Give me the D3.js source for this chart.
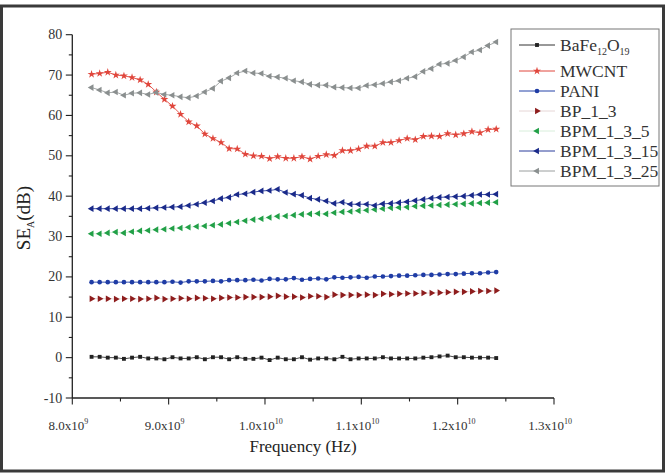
<!DOCTYPE html>
<html>
<head>
<meta charset="utf-8">
<script src="https://cdn.jsdelivr.net/npm/d3@7"></script>
<style>
  body { margin: 0; background: #fff; }
</style>
</head>
<body>
<div class="content"></div>
<script>
// frequency in GHz (51 points, 8.2 - 12.4 GHz)
var freq = [8.200, 8.284, 8.368, 8.452, 8.536, 8.620, 8.704, 8.788, 8.872, 8.956,
  9.040, 9.124, 9.208, 9.292, 9.376, 9.460, 9.544, 9.628, 9.712, 9.796,
  9.880, 9.964, 10.048, 10.132, 10.216, 10.300, 10.384, 10.468, 10.552, 10.636,
  10.720, 10.804, 10.888, 10.972, 11.056, 11.140, 11.224, 11.308, 11.392, 11.476,
  11.560, 11.644, 11.728, 11.812, 11.896, 11.980, 12.064, 12.148, 12.232, 12.316, 12.400];

var bafe = [0.2,0.2,0.0,0.0,-0.3,0.0,0.2,-0.2,-0.2,-0.4,
  0.1,-0.2,-0.2,0.1,-0.4,0.1,0.1,-0.4,0.1,-0.3,
  -0.3,0.0,-0.6,0.0,-0.4,-0.4,0.1,-0.5,-0.2,-0.2,
  -0.4,0.2,-0.4,-0.2,-0.2,-0.2,0.1,-0.2,-0.2,-0.2,
  -0.2,0.0,0.1,0.3,0.5,0.1,0.1,0.0,0.0,0.0,-0.1];

var mwcnt = [70.2,70.4,70.7,70.0,69.8,69.4,68.8,67.7,65.8,64.0,
  62.3,60.3,58.4,57.4,55.4,54.3,53.3,51.8,51.7,50.4,
  50.0,49.9,49.3,49.8,49.4,49.4,49.8,49.2,49.9,50.3,
  50.1,51.3,51.3,51.7,52.4,52.4,53.3,53.3,53.8,54.3,
  54.0,54.8,54.9,54.8,55.5,55.2,55.5,56.0,55.7,56.5,56.6];

var pani = [18.7,18.7,18.7,18.7,18.7,18.7,18.7,18.7,18.7,18.7,
  18.8,18.6,18.9,18.9,18.9,19.0,18.9,19.2,19.2,19.2,
  19.3,19.1,19.5,19.4,19.4,19.7,19.3,19.5,19.6,19.4,
  19.9,19.8,19.9,20.0,19.8,20.1,20.1,20.2,20.3,20.3,
  20.4,20.5,20.5,20.6,20.7,20.7,20.8,20.9,20.9,21.1,21.2];

var bp13 = [14.6,14.6,14.6,14.5,14.6,14.6,14.5,14.6,14.8,14.5,
  14.6,14.7,14.6,14.8,14.7,14.6,14.8,14.9,14.9,15.0,
  15.0,15.0,15.1,15.3,15.1,15.1,14.9,15.2,15.2,15.0,
  15.6,15.5,15.5,15.5,15.6,15.5,15.8,15.7,15.8,15.9,
  15.9,16.0,16.0,16.1,16.2,16.3,16.3,16.4,16.5,16.5,16.6];

var bpm5 = [30.7,30.7,30.9,31.1,30.9,31.2,31.4,31.5,31.7,31.8,
  32.0,32.1,32.3,32.5,32.6,32.8,33.0,33.3,33.6,33.9,
  34.2,34.4,34.7,35.0,35.1,35.3,35.5,35.6,35.7,35.6,
  35.9,36.1,36.2,36.4,36.5,36.7,36.9,37.1,37.2,37.3,
  37.5,37.6,37.7,37.8,37.9,38.0,38.1,38.2,38.3,38.4,38.5];

var bpm15 = [36.9,36.9,36.9,36.9,36.9,36.9,36.9,37.0,37.1,37.2,
  37.3,37.4,37.7,38.0,38.4,38.8,39.4,39.7,40.4,40.6,
  41.0,41.3,41.4,41.7,40.9,40.5,40.2,39.5,39.2,38.8,
  38.2,38.5,38.0,38.0,38.0,37.7,38.1,38.2,38.4,38.6,
  38.9,39.2,39.5,39.7,39.8,39.9,40.0,40.2,40.4,40.4,40.5];

var bpm25 = [66.9,66.3,65.6,65.8,65.0,65.5,65.6,65.2,65.7,65.2,
  65.0,64.6,64.4,64.8,65.8,66.7,68.5,69.3,70.5,71.0,
  70.5,70.4,69.7,69.5,69.2,68.6,68.3,67.7,67.5,67.5,
  67.0,66.9,66.8,66.8,67.4,67.6,67.9,68.3,68.6,69.2,
  69.6,70.9,71.6,72.7,72.9,73.6,74.5,75.7,76.2,77.3,78.2];

var seriesNames = ["BaFe12O19","MWCNT","PANI","BP_1_3","BPM_1_3_5","BPM_1_3_15","BPM_1_3_25"];
var seriesValues = [bafe, mwcnt, pani, bp13, bpm5, bpm15, bpm25];

var xTicks = [8.0, 9.0, 10.0, 11.0, 12.0, 13.0];
var xTickMant = ["8.0", "9.0", "1.0", "1.1", "1.2", "1.3"];
var xTickExp = ["9", "9", "10", "10", "10", "10"];
var yTicks = [-10, 0, 10, 20, 30, 40, 50, 60, 70, 80];

var FONT = "'Liberation Serif', 'Times New Roman', serif";

// look of each series
var styles = [
  {line: "#333", mark: "#222", sym: "square", size: 15},
  {line: "#e0463c", mark: "#e0463c", sym: "star", size: 20},
  {line: "#2443a8", mark: "#1f3ca5", sym: "circle", size: 17},
  {line: "#e6d6d6", mark: "#8e1d1d", sym: "right", size: 19},
  {line: "#d8eedb", mark: "#21a047", sym: "left", size: 19},
  {line: "#2a3d9c", mark: "#1a2a8a", sym: "left", size: 19},
  {line: "#9a9e9e", mark: "#8a8f8f", sym: "left", size: 19}
];

var W = 672, H = 474;
var svg = d3.select(".content").append("svg").attr("width", W).attr("height", H)
  .style("font-family", FONT);

// outer frame
svg.append("rect")
  .attr("x", 1.5).attr("y", 6).attr("width", 662).attr("height", 465)
  .attr("fill", "none").attr("stroke", "#3a3a3a").attr("stroke-width", 3);

var x = d3.scaleLinear().domain([8.0, 13.0]).range([72.3, 554]);
var y = d3.scaleLinear().domain([-10, 80]).range([398, 34.7]);

function symbolPath(s) {
  var t = d3.symbolSquare;
  if (s.sym == "star") t = d3.symbolStar;
  if (s.sym == "circle") t = d3.symbolCircle;
  if (s.sym == "right" || s.sym == "left") t = d3.symbolTriangle;
  return d3.symbol().type(t).size(s.size)();
}
function symbolRot(s) {
  if (s.sym == "right") return 90;
  if (s.sym == "left") return -90;
  return 0;
}

// axes
var xAxis = svg.append("g").attr("transform", "translate(0," + y(-10) + ")");
xAxis.append("line").attr("x1", x(8)).attr("x2", x(13)).attr("stroke", "#222").attr("stroke-width", 1.3);
xAxis.selectAll(".minor").data(d3.range(8.5, 13, 1)).enter().append("line")
  .attr("x1", d => x(d)).attr("x2", d => x(d)).attr("y1", 0).attr("y2", 3.5)
  .attr("stroke", "#222").attr("stroke-width", 1.1);
xAxis.selectAll(".major").data(xTicks).enter().append("line")
  .attr("x1", d => x(d)).attr("x2", d => x(d)).attr("y1", 0).attr("y2", 6.5)
  .attr("stroke", "#222").attr("stroke-width", 1.1);
var xl = xAxis.selectAll(".lab").data(xTicks).enter().append("text")
  .attr("x", d => x(d) - 4).attr("y", 32)
  .attr("text-anchor", "middle").attr("font-size", 13).attr("fill", "#333");
xl.append("tspan").text((d, i) => xTickMant[i] + "x10");
xl.append("tspan").attr("dy", -6).attr("font-size", 8).text((d, i) => xTickExp[i]);

var yAxis = svg.append("g").attr("transform", "translate(" + x(8) + ",0)");
yAxis.append("line").attr("y1", y(-10)).attr("y2", y(80)).attr("stroke", "#222").attr("stroke-width", 1.3);
yAxis.selectAll(".minor").data(d3.range(-5, 80, 10)).enter().append("line")
  .attr("y1", d => y(d)).attr("y2", d => y(d)).attr("x1", 0).attr("x2", -3.5)
  .attr("stroke", "#222").attr("stroke-width", 1.1);
yAxis.selectAll(".major").data(yTicks).enter().append("line")
  .attr("y1", d => y(d)).attr("y2", d => y(d)).attr("x1", 0).attr("x2", -6.5)
  .attr("stroke", "#222").attr("stroke-width", 1.1);
yAxis.selectAll(".lab").data(yTicks).enter().append("text")
  .attr("x", -10).attr("y", d => y(d) + 4.5)
  .attr("text-anchor", "end").attr("font-size", 14).attr("fill", "#333")
  .text(d => d);

// axis titles
svg.append("text").attr("x", 303).attr("y", 452).attr("text-anchor", "middle")
  .attr("font-size", 17).attr("fill", "#222").text("Frequency (Hz)");
var yt = svg.append("text").attr("transform", "translate(30,218) rotate(-90)")
  .attr("text-anchor", "middle").attr("font-size", 19).attr("fill", "#222");
yt.append("tspan").text("SE");
yt.append("tspan").attr("dy", 4).attr("font-size", 10).text("A");
yt.append("tspan").attr("dy", -4).text("(dB)");

// series
var line = d3.line().x((d, i) => x(freq[i])).y(d => y(d));
seriesValues.forEach(function(vals, k) {
  var s = styles[k];
  var g = svg.append("g");
  g.append("path").attr("d", line(vals)).attr("fill", "none")
    .attr("stroke", s.line).attr("stroke-width", 0.9);
  g.selectAll("path.m").data(vals).enter().append("path").attr("class", "m")
    .attr("d", symbolPath(s))
    .attr("transform", (d, i) => "translate(" + x(freq[i]) + "," + y(d) + ") rotate(" + symbolRot(s) + ")")
    .attr("fill", s.mark);
});

// legend
var legend = svg.append("g");
legend.append("rect").attr("x", 511).attr("y", 29).attr("width", 148).attr("height", 157)
  .attr("fill", "#fff").attr("stroke", "#777").attr("stroke-width", 1);
var rowY = [45, 71, 91, 111, 131, 151, 171];
seriesNames.forEach(function(name, k) {
  var s = styles[k];
  var ry = rowY[k];
  legend.append("line").attr("x1", 519).attr("x2", 555).attr("y1", ry).attr("y2", ry)
    .attr("stroke", s.line).attr("stroke-width", 1);
  legend.append("path").attr("d", symbolPath(s))
    .attr("transform", "translate(537," + ry + ") rotate(" + symbolRot(s) + ")")
    .attr("fill", s.mark);
  var t = legend.append("text").attr("x", 560).attr("y", ry + 5.5)
    .attr("font-size", 17.5).attr("fill", "#333");
  if (name == "BaFe12O19") {
    t.append("tspan").text("BaFe");
    t.append("tspan").attr("dy", 4).attr("font-size", 10).text("12");
    t.append("tspan").attr("dy", -4).text("O");
    t.append("tspan").attr("dy", 4).attr("font-size", 10).text("19");
  } else {
    t.text(name);
  }
});

svg.selectAll("text").style("font-family", FONT);
</script>
</body>
</html>
